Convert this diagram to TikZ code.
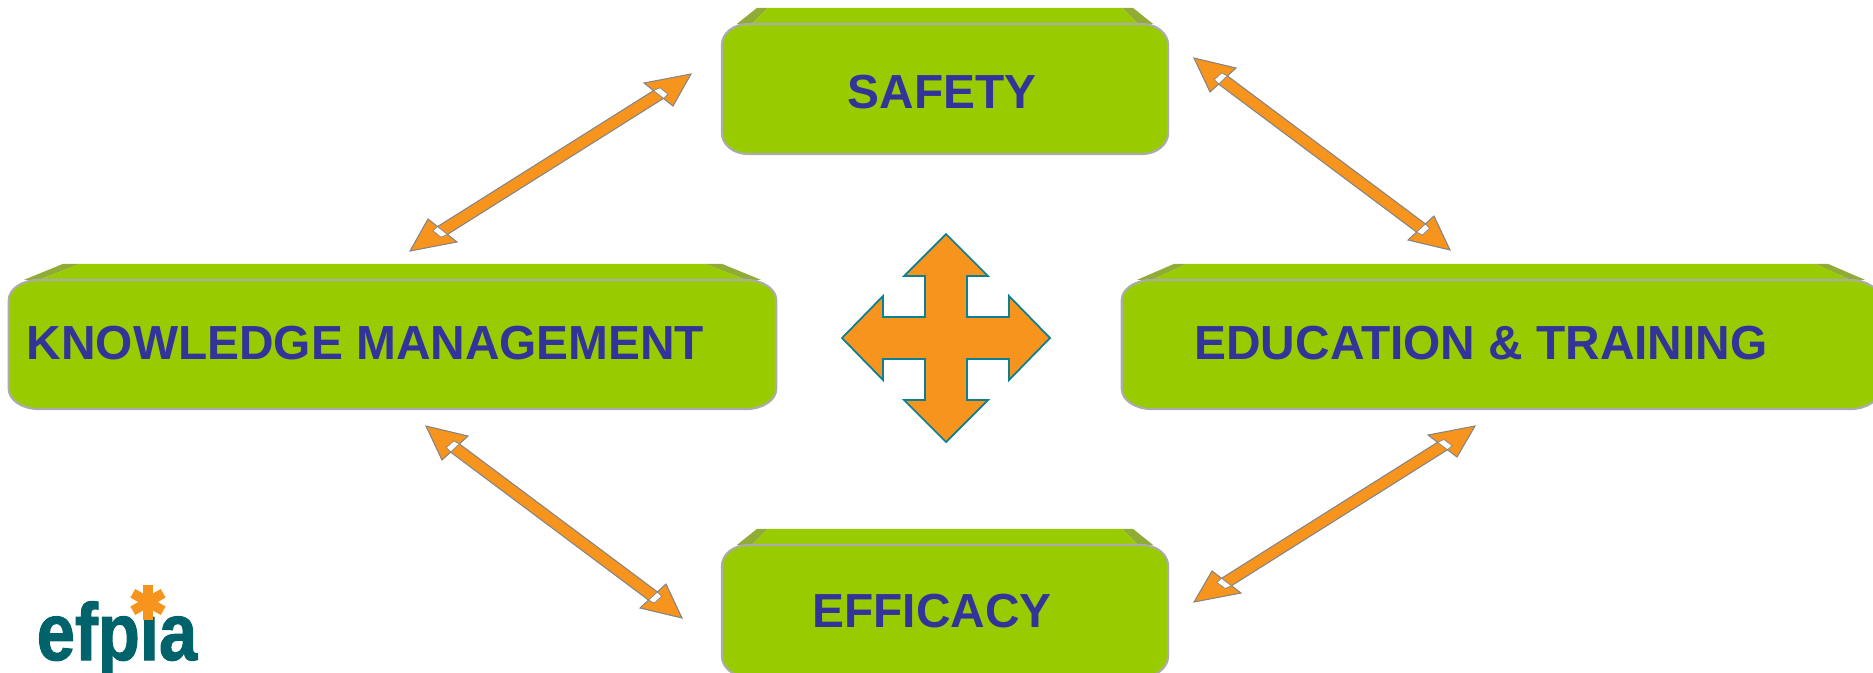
\documentclass[tikz,border=0pt]{standalone}
\usepackage{fontspec}
\setmainfont{Liberation Sans}
\newfontfamily\logofont[BoldFeatures={FakeBold=1.5}]{Liberation Sans}
\usetikzlibrary{calc}
\definecolor{boxgreen}{HTML}{99CC00}
\definecolor{boxline}{HTML}{ABABAB}
\definecolor{boxside}{HTML}{90AC34}
\definecolor{labelblue}{HTML}{333399}
\definecolor{arroworange}{HTML}{F7941D}
\definecolor{arrowline}{HTML}{858585}
\definecolor{crossline}{HTML}{0B7F93}
\definecolor{logoteal}{HTML}{00626B}
\tikzset{
    greenbox/.style={outer sep=0pt, inner sep=0pt},
    boxface/.style={draw=boxline, line width=0.6pt, fill=boxgreen},
    boxlabel/.style={anchor=base, text=labelblue, font=\fontsize{13.6}{16}\selectfont\bfseries, inner sep=0pt},
    blockarrow/.style={draw=arrowline, line width=0.3pt, fill=arroworange, line join=miter},
    notch/.style={draw=arrowline, line width=0.2pt, fill=white},
    crossarrow/.style={draw=crossline, line width=0.5pt, fill=arroworange}
}
% Sloped top and front of a box: name, inner offset, outer offset, x radius, y radius
\newcommand{\boxbody}[5]{
    \fill[boxside] ($(#1.north west)+(15,0)$) -- ($(#1.north west)+(#3,-16)$) -- ($(#1.north west)+(#2,-16)$) -- ($(#1.north west)+(30,0)$) -- cycle;
    \fill[boxside] ($(#1.north east)+(-15,0)$) -- ($(#1.north east)+(-#3,-16)$) -- ($(#1.north east)+(-#2,-16)$) -- ($(#1.north east)+(-30,0)$) -- cycle;
    \fill[boxgreen] ($(#1.north west)+(30,0)$) -- ($(#1.north west)+(#2,-16)$) -- ($(#1.north east)+(-#2,-16)$) -- ($(#1.north east)+(-30,0)$) -- cycle;
    \draw[boxface] ($(#1.north west)+(#4,0)$) -- ($(#1.north east)+(-#4,0)$)
        .. controls +(0.55*#4,0) and ($(#1.north east)+(0,0.45*#5)$) .. ($(#1.north east)+(0,#5)$)
        -- ($(#1.south east)+(0,-#5)$)
        .. controls +(0,0.55*#5) and ($(#1.south east)+(-0.45*#4,0)$) .. ($(#1.south east)+(-#4,0)$)
        -- ($(#1.south west)+(#4,0)$)
        .. controls +(-0.55*#4,0) and ($(#1.south west)+(0,-0.45*#5)$) .. ($(#1.south west)+(0,-#5)$)
        -- ($(#1.north west)+(0,#5)$)
        .. controls +(0,-0.55*#5) and ($(#1.north west)+(0.45*#4,0)$) .. ($(#1.north west)+(#4,0)$) -- cycle;
}
% One end of a double arrow: tip, prefix, offset of both head corners
\newcommand{\arrowend}[4]{
    \coordinate (#2h1) at ($(#1)+(#3)$);
    \coordinate (#2h2) at ($(#1)+(#4)$);
    \coordinate (#2s1) at ($(#2h1)!0.33!(#2h2)$);
    \coordinate (#2s2) at ($(#2h1)!0.67!(#2h2)$);
    \coordinate (#2n1) at ($(#2s1)!0.17!(#1)$);
    \coordinate (#2n2) at ($(#2s2)!0.17!(#1)$);
}
\newcommand{\biarrow}[6]{
    \arrowend{#1}{p}{#3,#4}{#5,#6}
    \arrowend{#2}{q}{-#3,-#4}{-#5,-#6}
    \draw[blockarrow] (#1) -- (ph1) -- (ps1) -- (qs2) -- (qh2) -- (#2) -- (qh1) -- (qs1) -- (ps2) -- (ph2) -- cycle;
    \draw[notch] (ps1) -- (pn1) -- (pn2) -- (ps2) -- cycle;
    \draw[notch] (qs1) -- (qn1) -- (qn2) -- (qs2) -- cycle;
}

\begin{document}
\begin{tikzpicture}[x=0.01cm,y=-0.01cm]
\useasboundingbox (0,0) rectangle (1873,672);
\clip (0,0) rectangle (1873,672);
% Boxes
\node[greenbox, minimum width=4.46cm, minimum height=1.30cm] (safety) at (945,89){};
\node[greenbox, minimum width=7.67cm, minimum height=1.29cm] (knowledge) at (392.5,344.5){};
\node[greenbox, minimum width=7.58cm, minimum height=1.29cm] (education) at (1501,344.5){};
\node[greenbox, minimum width=4.46cm, minimum height=1.32cm] (efficacy) at (945,611){};
\boxbody{safety}{46}{35}{26}{21}
\boxbody{knowledge}{71}{54}{30}{20}
\boxbody{education}{65}{52}{30}{20}
\boxbody{efficacy}{46}{35}{26}{21}
% Labels
\node[boxlabel] (safetytext) at (942,108){SAFETY};
\node[boxlabel] (knowledgetext) at (365.5,359){KNOWLEDGE MANAGEMENT};
\node[boxlabel] (educationtext) at (1481,359){EDUCATION \& TRAINING};
\node[boxlabel] (efficacytext) at (932,627){EFFICACY};
% Arrow tips
\coordinate (knowupper) at (410,251);
\coordinate (safetyleft) at (691,74);
\coordinate (safetyright) at (1194,58);
\coordinate (eduupper) at (1450,250);
\coordinate (knowlower) at (426,426);
\coordinate (effleft) at (682,618);
\coordinate (edulower) at (1475,426);
\coordinate (effright) at (1194,602);
% Connection
\biarrow{knowupper}{safetyleft}{18}{-32}{47}{-9}
\biarrow{safetyright}{eduupper}{42}{10}{16}{34}
\biarrow{knowlower}{effleft}{42}{10}{16}{34}
\biarrow{effright}{edulower}{18}{-31}{47}{-9}
% Centre cross
\draw[crossarrow, shift={(946,338)}] (0,-104) -- (42,-62) -- (21,-62) -- (21,-21) -- (63,-21) -- (63,-42)
    -- (104,0) -- (63,42) -- (63,21) -- (21,21) -- (21,62) -- (42,62)
    -- (0,104) -- (-42,62) -- (-21,62) -- (-21,21) -- (-63,21) -- (-63,42)
    -- (-104,0) -- (-63,-42) -- (-63,-21) -- (-21,-21) -- (-21,-62) -- (-42,-62) -- cycle;
% Logo
\node[anchor=base, text=logoteal, font=\fontsize{23}{26}\selectfont\logofont\bfseries, xscale=0.85, inner sep=0pt] (logo) at (117,660){efpia};
\fill[white] (148,600) circle (16);
\foreach \a in {30,90,150}
    \draw[arroworange, line width=2.8pt] ($(148,602)+(\a:17.5)$) -- ($(148,602)+(\a+180:17.5)$);
\end{tikzpicture}
\end{document}
